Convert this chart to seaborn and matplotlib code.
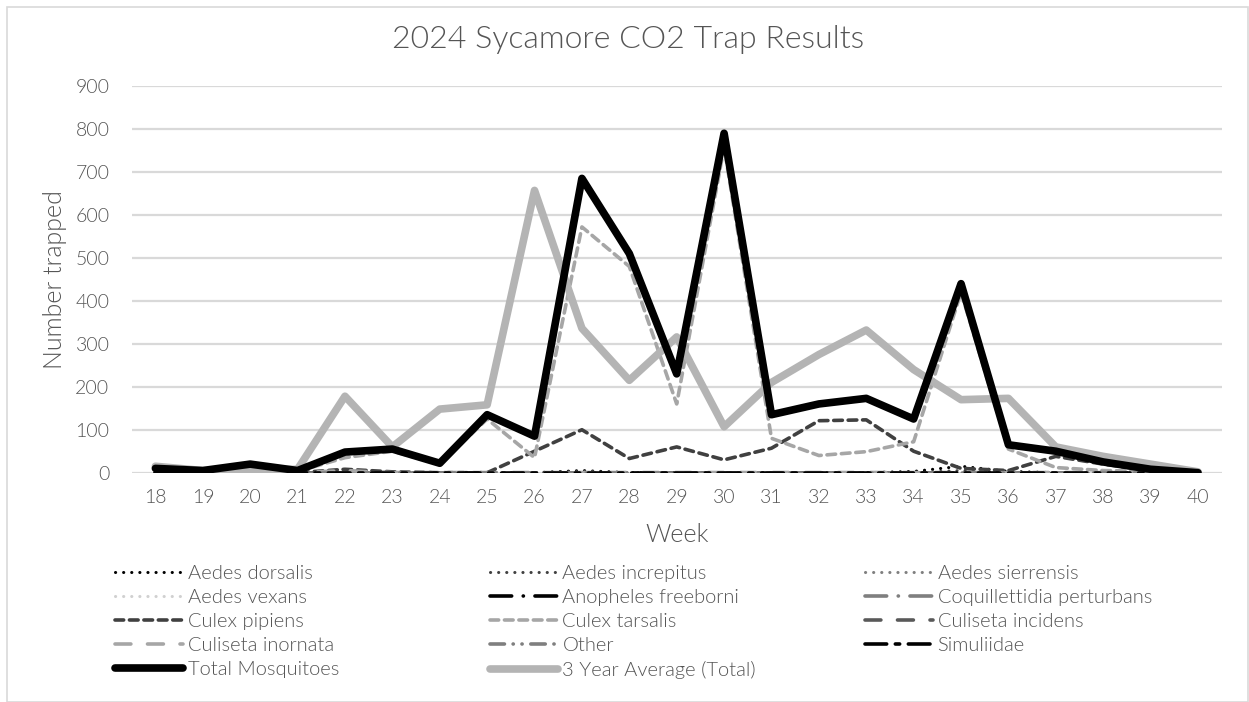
import matplotlib
matplotlib.use("Agg")
import matplotlib.pyplot as plt
import seaborn as sns

weeks = list(range(18, 41))

aedes_dorsalis = [0, 0, 0, 0, 0, 0, 0, 0, 0, 5, 0, 0, 0, 0, 0, 0, 3, 15, 3, 0, 0, 0, 0]
aedes_increpitus = [0, 0, 0, 0, 0, 0, 0, 0, 0, 3, 0, 0, 0, 0, 0, 0, 0, 5, 0, 0, 0, 0, 0]
aedes_sierrensis = [0] * 23
aedes_vexans = [0] * 23
anopheles_freeborni = [0] * 23
coquillettidia = [0] * 23
culex_pipiens = [0, 0, 0, 0, 8, 2, 0, 0, 50, 100, 33, 60, 30, 57, 121, 123, 50, 10, 5, 38, 20, 5, 0]
culex_tarsalis = [5, 2, 15, 3, 35, 50, 20, 125, 35, 572, 480, 160, 758, 80, 40, 49, 72, 420, 55, 12, 5, 3, 0]
culiseta_incidens = [0, 0, 0, 0, 3, 0, 0, 0, 0, 0, 0, 0, 0, 0, 0, 0, 0, 0, 0, 0, 0, 0, 0]
culiseta_inornata = [0, 0, 0, 0, 5, 0, 0, 0, 0, 0, 0, 0, 0, 0, 0, 0, 0, 0, 0, 0, 0, 0, 0]
other = [0] * 23
simuliidae = [0] * 23
total = [10, 5, 20, 5, 48, 55, 22, 135, 85, 685, 510, 230, 790, 135, 160, 173, 125, 440, 65, 50, 25, 8, 0]
avg_3yr = [15, 5, 5, 8, 178, 60, 148, 158, 657, 336, 215, 316, 107, 210, 275, 332, 240, 170, 173, 60, 38, 20, 2]

sns.set_style("white")
plt.rcParams["font.family"] = ["Lato", "DejaVu Sans"]
plt.rcParams["font.weight"] = 300
plt.rcParams["axes.labelweight"] = 300
plt.rcParams["figure.titleweight"] = 300
txt = "#555555"

fig = plt.figure(figsize=(12.49, 7.02), dpi=100)
ax = fig.add_axes([131.7 / 1249, 1 - 472.7 / 702, 1090 / 1249, 386.7 / 702])

# (label, values, colour, width, dash pattern)
series = [
    ("Aedes dorsalis", aedes_dorsalis, "#000000", 2.2, (0, (0.05, 2.6))),
    ("Aedes increpitus", aedes_increpitus, "#404040", 2.2, (0, (0.05, 2.6))),
    ("Aedes sierrensis", aedes_sierrensis, "#7f7f7f", 2.2, (0, (0.05, 2.6))),
    ("Aedes vexans", aedes_vexans, "#d0d0d0", 2.2, (0, (0.05, 2.6))),
    ("Anopheles freeborni", anopheles_freeborni, "#000000", 2.6, (0, (6, 3.2, 0.05, 3.2))),
    ("Coquillettidia perturbans", coquillettidia, "#7f7f7f", 2.6, (0, (6, 3.2, 0.05, 3.2))),
    ("Culex pipiens", culex_pipiens, "#404040", 2.6, (0, (2.4, 1.6))),
    ("Culex tarsalis", culex_tarsalis, "#a6a6a6", 2.6, (0, (2.4, 1.6))),
    ("Culiseta incidens", culiseta_incidens, "#595959", 2.6, (0, (4.4, 4.6))),
    ("Culiseta inornata", culiseta_inornata, "#a6a6a6", 2.6, (0, (4.4, 4.6))),
    ("Other", other, "#7f7f7f", 2.6, (0, (4, 2.4, 0.05, 2.4, 0.05, 2.4))),
    ("Simuliidae", simuliidae, "#000000", 2.6, (0, (6, 2.4, 1.2, 2.4))),
    ("3 Year Average (Total)", avg_3yr, "#b4b4b4", 5.5, "-"),
    ("Total Mosquitoes", total, "#000000", 5.5, "-"),
]

handles = {}
for label, vals, col, lw, ls in series:
    sns.lineplot(x=weeks, y=vals, ax=ax, color=col, linewidth=lw, linestyle=ls,
                 dash_capstyle="round", solid_capstyle="round", solid_joinstyle="round",
                 label=label)
for line in ax.get_lines():
    handles[line.get_label()] = line
ax.get_legend().remove()

ax.set_xlim(17.5, 40.5)
ax.set_ylim(0, 900)
ax.set_xticks(weeks)
ax.set_yticks(range(0, 901, 100))
ax.grid(axis="y", color="#d9d9d9", linewidth=1.6)
ax.grid(axis="x", visible=False)
ax.set_axisbelow(True)
for s in ax.spines.values():
    s.set_visible(False)
ax.tick_params(axis="both", length=0, labelsize=14, labelcolor=txt)
ax.tick_params(axis="y", pad=16)
ax.tick_params(axis="x", pad=12)
for t in ax.get_xticklabels() + ax.get_yticklabels():
    t.set_fontweight(300)

ax.set_xlabel("Week", fontsize=18, color=txt, labelpad=12, fontweight=300)
ax.set_ylabel("Number trapped", fontsize=18, color=txt, labelpad=6, fontweight=300)
fig.suptitle("2024 Sycamore CO2 Trap Results", x=0.503, y=0.965, fontsize=23,
             color=txt, fontweight=300)

columns = [
    ["Aedes dorsalis", "Aedes vexans", "Culex pipiens", "Culiseta inornata", "Total Mosquitoes"],
    ["Aedes increpitus", "Anopheles freeborni", "Culex tarsalis", "Other", "3 Year Average (Total)"],
    ["Aedes sierrensis", "Coquillettidia perturbans", "Culiseta incidens", "Simuliidae"],
]
col_x = [115, 490, 865]
for names, x0 in zip(columns, col_x):
    leg = fig.legend([handles[n] for n in names], names, loc="upper left",
                     bbox_to_anchor=(x0 / 1249, 1 - 565 / 702), frameon=False,
                     fontsize=14.5, handlelength=3.4, handletextpad=0.2,
                     labelspacing=0.34, borderpad=0, borderaxespad=0)
    for t in leg.get_texts():
        t.set_color(txt)
        t.set_fontweight(300)

fig.patches.append(plt.Rectangle((7 / 1249, 0), 1241 / 1249, 695 / 702, transform=fig.transFigure,
                                 fill=False, edgecolor="#d9d9d9", linewidth=1.2))

fig.savefig("out.png", dpi=100)
